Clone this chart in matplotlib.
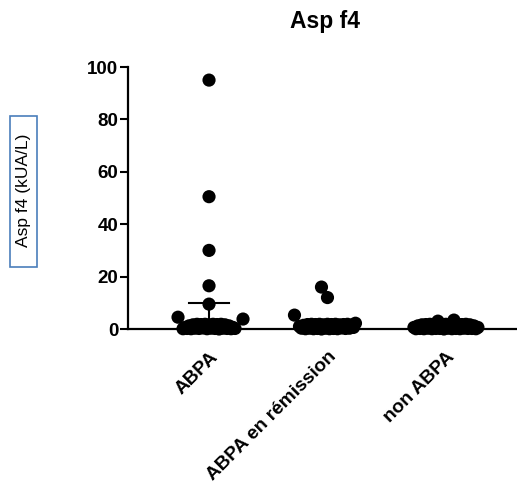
import numpy as np
import matplotlib
matplotlib.use("Agg")
import matplotlib.pyplot as plt
from matplotlib.patches import Rectangle

# ---- data ----
title = "Asp f4"
ylabel = "Asp f4 (kUA/L)"
categories = ["ABPA", "ABPA en rémission", "non ABPA"]

abpa = [95, 50.5, 30, 16.5, 9.5, 4.5, 3.8,
        0.1, 0.6, 0.2, 1.2, 0.1, 1.6, 0.3, 1.8, 0.2, 1.7, 0.4, 1.8,
        0.1, 1.6, 0.3, 1.8, 0.2, 1.7, 0.0, 1.8, 0.3, 1.6, 0.2, 1.2,
        0.1, 0.6, 0.2]
abpa_remission = [12, 16, 5.3,
                  1.0, 0.3, 1.4, 0.1, 1.7, 0.3, 1.8, 0.1, 1.7, 0.2, 1.8,
                  0.0, 1.6, 0.3, 1.8, 0.1, 1.7, 0.2, 1.8, 0.1, 1.6, 0.4,
                  1.7, 0.2, 1.8, 0.3, 1.5, 0.6, 2.2]
non_abpa = [0.6, 0.1, 1.2, 0.2, 1.6, 0.1, 1.7, 0.3, 1.8, 0.1, 1.7, 0.2,
            3.0, 0.2, 1.7, 0.0, 1.8, 0.3, 1.6, 0.1, 3.4, 0.2, 1.8, 0.1,
            1.7, 0.3, 1.8, 0.2, 1.6, 0.2, 1.2, 0.1, 0.6]
groups = [abpa, abpa_remission, non_abpa]

# summary lines (median and upper bar)
medians = [0.5, 0.4, 0.3]
uppers = [9.8, 0.8, 0.5]

yticks = [0, 20, 40, 60, 80, 100]

# ---- figure ----
W, H, DPI = 517, 486, 100
fig = plt.figure(figsize=(W / DPI, H / DPI), dpi=DPI)
ax = fig.add_axes([128 / W, 1 - 329 / H, (517 - 128) / W, (329 - 67) / H])
ax.set_xlim(-0.684, 2.6)
ax.set_ylim(0, 100)

FONT = "Liberation Sans"

# pixel scales
ppx = (ax.get_position().width * W) / (ax.get_xlim()[1] - ax.get_xlim()[0])
ppy = (ax.get_position().height * H) / (ax.get_ylim()[1] - ax.get_ylim()[0])

cluster_thr = 3.5
gap_px = 2.0
dmin = 12


def swarm(vals):
    vals = np.asarray(vals, float)
    low = [i for i, v in enumerate(vals) if v < cluster_thr]
    high = [i for i, v in enumerate(vals) if v >= cluster_thr]
    off = np.zeros(len(vals))
    half = (len(low) - 1) * gap_px / 2
    pos = np.linspace(-half, half, len(low))
    for k, i in enumerate(low):
        off[i] = pos[k]
    placed = list(low)
    for i in high:
        yi = vals[i] * ppy
        cands = [0]
        for s in range(1, 300):
            cands += [-s, s]
        for c in cands:
            ok = True
            for j in placed:
                dx = c - off[j]
                dy = yi - vals[j] * ppy
                if dx * dx + dy * dy < dmin * dmin:
                    ok = False
                    break
            if ok:
                off[i] = c
                break
        placed.append(i)
    return off / ppx, vals


for gi, vals in enumerate(groups):
    dx, v = swarm(vals)
    ax.scatter(gi + dx, v, s=90, color="black", edgecolors="none",
               zorder=3, clip_on=False)
    # median line and upper bar
    ax.plot([gi - 0.22, gi + 0.22], [medians[gi]] * 2, color="black",
            lw=1.5, zorder=2, clip_on=False)
    ax.plot([gi, gi], [medians[gi], uppers[gi]], color="black",
            lw=1.5, zorder=2, clip_on=False)
    ax.plot([gi - 0.165, gi + 0.165], [uppers[gi]] * 2, color="black",
            lw=1.5, zorder=2, clip_on=False)

for s in ["top", "right"]:
    ax.spines[s].set_visible(False)
for s in ["left", "bottom"]:
    ax.spines[s].set_linewidth(1.6)

ax.set_yticks(yticks)
ax.set_yticklabels([str(t) for t in yticks], fontfamily=FONT,
                   fontweight="bold", fontsize=13.5)
ax.tick_params(axis="y", length=6, width=1.5, pad=1)
ax.set_xticks(range(len(categories)))
ax.set_xticklabels(categories, rotation=45, ha="right", va="top",
                   rotation_mode="anchor", fontfamily=FONT,
                   fontweight="bold", fontsize=13.8)
ax.tick_params(axis="x", length=0, pad=14)

fig.text(325 / W, 1 - 28 / H, title, ha="center", va="baseline",
         fontfamily=FONT, fontweight="bold", fontsize=16.5)

# boxed y label
fig.patches.append(Rectangle((10 / W, 1 - 267 / H), 27 / W, 151 / H,
                             transform=fig.transFigure, fill=False,
                             edgecolor="#4a7ebb", lw=1.2))
fig.text(24 / W, 1 - 190 / H, ylabel, rotation=90, ha="center",
         va="center", fontfamily=FONT, fontsize=12.5, color="black")

fig.savefig("out.png", dpi=DPI)
